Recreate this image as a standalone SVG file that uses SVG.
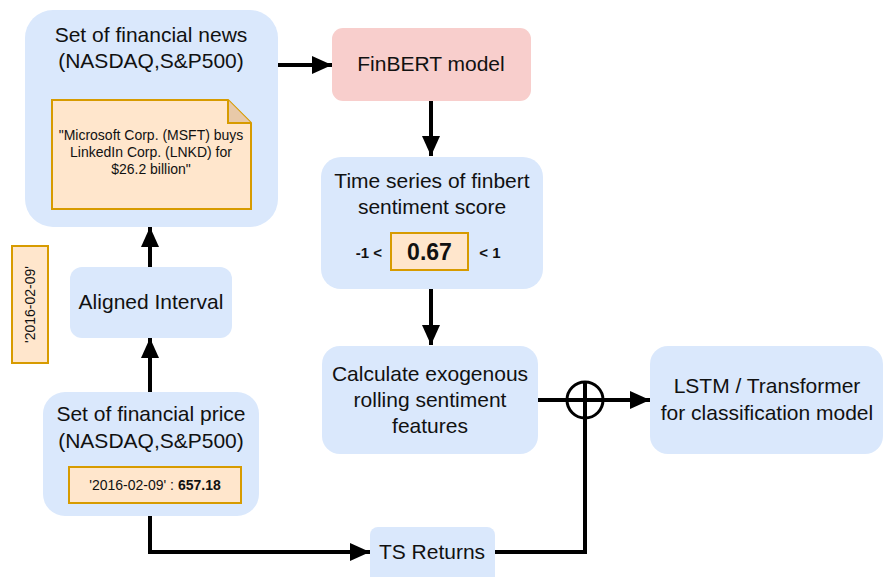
<svg xmlns="http://www.w3.org/2000/svg" width="883" height="577" viewBox="0 0 883 577">
<style>
.box{fill:#dae8fc;}
.note{fill:#ffe6cc;stroke:#d79b00;stroke-width:2;}
.t{font-family:"Liberation Sans",Arial,sans-serif;font-size:21px;fill:#111;text-anchor:middle;}
.s{font-family:"Liberation Sans",Arial,sans-serif;font-size:14px;fill:#111;text-anchor:middle;}
.b{font-weight:bold;}
.ln{fill:none;stroke:#000;stroke-width:4;}
</style>
<defs>
<marker id="ah" markerUnits="userSpaceOnUse" markerWidth="20" markerHeight="20" viewBox="0 0 20 20" refX="20" refY="10" orient="auto">
<path d="M0,1 L20,10 L0,19 Z" fill="#000"/>
</marker>
</defs>
<g id="news">
<rect class="box" x="25" y="10" width="253" height="217" rx="28"/>
<text class="t" x="151" y="42">Set of financial news</text>
<text class="t" x="151" y="68">(NASDAQ,S&amp;P500)</text>
</g>
<g id="news-note">
<path class="note" d="M52,100 H228 L251,123 V209 H52 Z"/>
<path d="M228,100 V123 H251" fill="#e8c9a8" stroke="#d79b00" stroke-width="2"/>
<text class="s" x="151" y="140">"Microsoft Corp. (MSFT) buys</text>
<text class="s" x="151" y="157">LinkedIn Corp. (LNKD) for</text>
<text class="s" x="151" y="174">$26.2 billion"</text>
</g>
<g id="finbert">
<rect x="332" y="28" width="199" height="73" rx="11" fill="#f8cecc"/>
<text class="t" x="431" y="71">FinBERT model</text>
</g>
<g id="timeseries">
<rect class="box" x="321" y="157" width="222" height="132" rx="20"/>
<text class="t" x="432" y="188">Time series of finbert</text>
<text class="t" x="432" y="214">sentiment score</text>
<text class="s b" x="369" y="258" style="font-size:15px">-1 &lt;</text>
<rect class="note" x="391" y="233" width="77" height="37"/>
<text class="t b" x="429.5" y="260" style="font-size:23px">0.67</text>
<text class="s b" x="490" y="258" style="font-size:15px">&lt; 1</text>
</g>
<g id="date-note">
<rect class="note" x="12" y="246" width="36" height="117"/>
<text class="s" x="0" y="0" transform="translate(34.5,304.5) rotate(-90)">'2016-02-09'</text>
</g>
<g id="aligned">
<rect class="box" x="70" y="267" width="162" height="71" rx="12"/>
<text class="t" x="151" y="309">Aligned Interval</text>
</g>
<g id="price">
<rect class="box" x="43" y="392" width="216" height="124" rx="22"/>
<text class="t" x="151" y="421">Set of financial price</text>
<text class="t" x="151" y="448">(NASDAQ,S&amp;P500)</text>
<rect class="note" x="69" y="467" width="172" height="36"/>
<text class="s" x="155" y="490">'2016-02-09' : <tspan class="b">657.18</tspan></text>
</g>
<g id="calculate">
<rect class="box" x="322" y="346" width="216" height="108" rx="18"/>
<text class="t" x="430" y="381">Calculate exogenous</text>
<text class="t" x="430" y="407">rolling sentiment</text>
<text class="t" x="430" y="433">features</text>
</g>
<g id="lstm">
<rect class="box" x="650" y="346" width="233" height="108" rx="18"/>
<text class="t" x="767" y="393">LSTM / Transformer</text>
<text class="t" x="767" y="420">for classification model</text>
</g>
<g id="tsreturns">
<rect class="box" x="370" y="527" width="125" height="60" rx="8"/>
<text class="t" x="432" y="559">TS Returns</text>
</g>
<g id="connectors">
<line class="ln" x1="278" y1="65" x2="332" y2="65" marker-end="url(#ah)"/>
<line class="ln" x1="431" y1="101" x2="431" y2="156" marker-end="url(#ah)"/>
<line class="ln" x1="431" y1="289" x2="431" y2="345" marker-end="url(#ah)"/>
<line class="ln" x1="150" y1="267" x2="150" y2="227" marker-end="url(#ah)"/>
<line class="ln" x1="150" y1="392" x2="150" y2="338" marker-end="url(#ah)"/>
<polyline class="ln" points="150,516 150,552 370,552" marker-end="url(#ah)"/>
<polyline class="ln" points="495,552 585,552 585,381"/>
<line class="ln" x1="538" y1="400" x2="650" y2="400" marker-end="url(#ah)"/>
<circle cx="585" cy="400" r="18" fill="none" stroke="#000" stroke-width="3"/>
</g>
</svg>
